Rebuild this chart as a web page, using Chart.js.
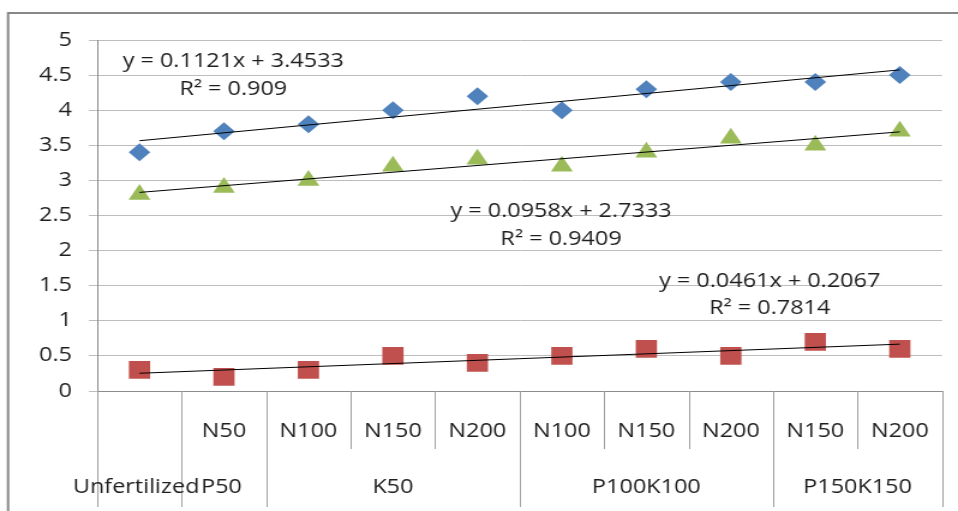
<!DOCTYPE html>
<html>
<head>
<meta charset="utf-8">
<script src="https://cdn.jsdelivr.net/npm/chart.js@4.4.1/dist/chart.umd.min.js"></script>
<style>
  html, body { margin: 0; padding: 0; background: #ffffff; overflow: hidden; }
  #chart { display: block; }
</style>
</head>
<body>
<canvas id="chart" width="798" height="511" style="width:958px;height:511px;"></canvas>
<script>
// Treatment levels (first row under the axis) and their fertilizer groups (second row)
const nLabels = ['', 'N50', 'N100', 'N150', 'N200', 'N100', 'N150', 'N200', 'N150', 'N200'];
const groupLabels = ['Unfertilized', 'P50', 'K50', 'P100K100', 'P150K150'];
const groupSpans = [1, 1, 3, 3, 2];

// Measured values per treatment
const seriesBlue = [3.4, 3.7, 3.8, 4.0, 4.2, 4.0, 4.3, 4.4, 4.4, 4.5];
const seriesGreen = [2.8, 2.9, 3.0, 3.2, 3.3, 3.2, 3.4, 3.6, 3.5, 3.7];
const seriesRed = [0.3, 0.2, 0.3, 0.5, 0.4, 0.5, 0.6, 0.5, 0.7, 0.6];

// Linear trendlines (x = 1..10) as printed next to each series
const trendSlopes = [0.1121, 0.0958, 0.0461];
const trendIntercepts = [3.4533, 2.7333, 0.2067];
const trendR2 = ['0.909', '0.9409', '0.7814'];

// Value-axis tick labels
const yTickLabels = ['0', '0.5', '1', '1.5', '2', '2.5', '3', '3.5', '4', '4.5', '5'];

const FONT = "'Open Sans', 'DejaVu Sans', sans-serif";
const FONT_SIZE = 19.5;
const TEXT = '#1e1e1e';
const AXIS = '#8c8c8c';

// Trendline endpoints at the first and last treatment, gaps spanned
function trendData(k) {
  const n = nLabels.length;
  const d = new Array(n).fill(null);
  d[0] = trendSlopes[k] * 1 + trendIntercepts[k];
  d[n - 1] = trendSlopes[k] * n + trendIntercepts[k];
  return d;
}

function fmt(v) {
  return v.toFixed(4).replace(/0+$/, '');
}

// Where each equation / R² pair sits, in axis units (category index, value)
const eqAnchors = [
  { x: 1.11, yEq: 4.69, yR: 4.29 },
  { x: 4.99, yEq: 2.555, yR: 2.155 },
  { x: 7.46, yEq: 1.56, yR: 1.17 }
];

// The two single-level groups on the left sit slightly left of their column
const groupShift = [-0.04, -0.03, 0, 0, 0];

const decorations = {
  id: 'decorations',
  beforeDraw(chart) {
    const ctx = chart.ctx;
    ctx.save();
    ctx.fillStyle = '#ffffff';
    ctx.fillRect(0, 0, chart.width, chart.height);
    // outer chart frame
    ctx.strokeStyle = '#878787';
    ctx.lineWidth = 2;
    ctx.strokeRect(6.7, 13, chart.width + 20, chart.height + 20);
    ctx.restore();
  },
  afterDraw(chart) {
    const ctx = chart.ctx;
    const xs = chart.scales.x;
    const ys = chart.scales.y;
    const top = xs.top;
    ctx.save();

    // category separators: short between levels, long between groups
    const groupEdges = new Set([0]);
    let acc = 0;
    groupSpans.forEach(s => { acc += s; groupEdges.add(acc); });
    ctx.strokeStyle = '#a0a0a0';
    ctx.lineWidth = 1;
    for (let b = 0; b <= nLabels.length; b++) {
      const px = Math.round(xs.getPixelForValue(b - 0.5)) + 0.5;
      const len = groupEdges.has(b) ? 116 : 58;
      ctx.beginPath();
      ctx.moveTo(px, top);
      ctx.lineTo(px, top + len);
      ctx.stroke();
    }

    // group labels, centred under their span
    ctx.fillStyle = TEXT;
    ctx.font = `${FONT_SIZE}px ${FONT}`;
    ctx.textAlign = 'center';
    ctx.textBaseline = 'middle';
    let start = 0;
    groupLabels.forEach((g, i) => {
      const mid = start + (groupSpans[i] - 1) / 2 + groupShift[i];
      ctx.fillText(g, xs.getPixelForValue(mid), top + 96);
      start += groupSpans[i];
    });

    // trendline equations
    eqAnchors.forEach((a, k) => {
      const px = xs.getPixelForValue(a.x);
      ctx.fillText(`y = ${fmt(trendSlopes[k])}x + ${fmt(trendIntercepts[k])}`, px, ys.getPixelForValue(a.yEq));
      ctx.fillText(`R\u00B2 = ${trendR2[k]}`, px, ys.getPixelForValue(a.yR));
    });
    ctx.restore();
  }
};

const trendStyle = {
  type: 'line',
  borderColor: '#000000',
  borderWidth: 1,
  pointRadius: 0,
  spanGaps: true,
  fill: false,
  order: 0
};

const markerStyle = {
  type: 'line',
  showLine: false,
  borderWidth: 0,
  order: 1
};

new Chart(document.getElementById('chart'), {
  type: 'line',
  data: {
    labels: nLabels,
    datasets: [
      { ...markerStyle, label: 'A', data: seriesBlue, pointStyle: 'rectRot', pointRadius: 9,
        backgroundColor: '#4F81BD', borderColor: '#4F81BD' },
      { ...markerStyle, label: 'B', data: seriesGreen, pointStyle: 'triangle', pointRadius: 10.5,
        backgroundColor: '#9BBB59', borderColor: '#9BBB59' },
      { ...markerStyle, label: 'C', data: seriesRed, pointStyle: 'rect', pointRadius: 12.5,
        backgroundColor: '#C0504D', borderColor: '#C0504D' },
      { ...trendStyle, label: 'Linear (A)', data: trendData(0) },
      { ...trendStyle, label: 'Linear (B)', data: trendData(1) },
      { ...trendStyle, label: 'Linear (C)', data: trendData(2) }
    ]
  },
  options: {
    responsive: false,
    maintainAspectRatio: false,
    devicePixelRatio: 1,
    animation: false,
    events: [],
    layout: { padding: { top: 40, right: 13.3, bottom: 0, left: 0 } },
    plugins: { legend: { display: false }, tooltip: { enabled: false } },
    scales: {
      x: {
        type: 'category',
        offset: true,
        grid: { display: false },
        border: { display: true, color: AXIS, width: 1 },
        ticks: {
          autoSkip: false, maxRotation: 0, minRotation: 0,
          padding: 21, color: TEXT, font: { family: FONT, size: FONT_SIZE }
        },
        afterFit(scale) { scale.height = 120; }
      },
      y: {
        min: 0, max: 5,
        grid: { color: '#bdbdbd', lineWidth: 1, tickLength: 7 },
        border: { display: true, color: AXIS, width: 1 },
        ticks: {
          stepSize: 0.5, padding: 14, color: TEXT, font: { family: FONT, size: FONT_SIZE },
          callback: (v, i) => yTickLabels[i]
        },
        afterFit(scale) { scale.width = 81; }
      }
    }
  },
  plugins: [decorations]
});
</script>
</body>
</html>
